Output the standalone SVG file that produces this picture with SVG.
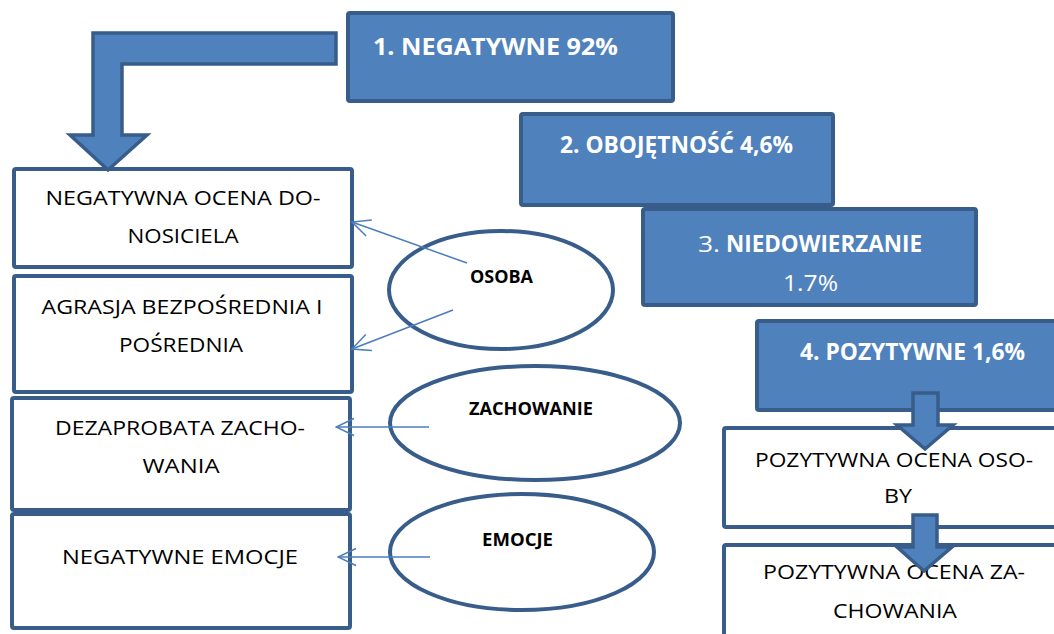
<svg xmlns="http://www.w3.org/2000/svg" width="1054" height="634" viewBox="0 0 1054 634">
  <defs>
    <style>
      .head { fill: #4f81bd; stroke: #385d8a; stroke-width: 4; }
      .box { fill: #ffffff; stroke: #385d8a; stroke-width: 4; }
      .oval { fill: #ffffff; stroke: #385d8a; stroke-width: 4; }
      .blk { fill: #4f81bd; stroke: #385d8a; stroke-width: 3.5; stroke-linejoin: miter; }
      .ht { font-family: "Open Sans", "Liberation Sans", sans-serif; font-weight: bold; font-size: 23px; fill: #ffffff; }
      .hn { font-family: "Open Sans", "Liberation Sans", sans-serif; font-size: 21px; fill: #ffffff; }
      .bt { font-family: "Open Sans", "Liberation Sans", sans-serif; font-size: 20.5px; fill: #000000; text-anchor: middle; }
      .ot { font-family: "Open Sans", "Liberation Sans", sans-serif; font-weight: bold; font-size: 17px; fill: #000000; }
      .link { stroke: #4a7ebb; stroke-width: 1.5; fill: none; marker-end: url(#open); }
    </style>
    <marker id="open" viewBox="0 0 20 20" refX="19" refY="10" markerWidth="20" markerHeight="20" markerUnits="userSpaceOnUse" orient="auto">
      <path d="M1,1.5 L19,10 L1,18.5" fill="none" stroke="#4a7ebb" stroke-width="1.5"/>
    </marker>
  </defs>

  <!-- category headers -->
  <g id="neg">
    <rect class="head" x="348" y="13" width="325" height="88" rx="2"/>
    <text class="ht" x="373" y="55" textLength="245" lengthAdjust="spacingAndGlyphs">1. NEGATYWNE 92%</text>
  </g>
  <g id="obo">
    <rect class="head" x="521" y="114" width="312" height="91" rx="2"/>
    <text class="ht" x="560" y="153" textLength="233" lengthAdjust="spacingAndGlyphs">2. OBOJĘTNOŚĆ 4,6%</text>
  </g>
  <g id="nie">
    <rect class="head" x="643" y="209" width="333" height="96" rx="2"/>
    <text class="hn" x="698" y="252" textLength="22" lengthAdjust="spacingAndGlyphs">3.</text>
    <text class="ht" x="726" y="252" textLength="196" lengthAdjust="spacingAndGlyphs">NIEDOWIERZANIE</text>
    <text class="hn" x="783" y="291" textLength="55" lengthAdjust="spacingAndGlyphs">1.7%</text>
  </g>
  <g id="poz">
    <rect class="head" x="757" y="321" width="304" height="89" rx="2"/>
    <text class="ht" x="800" y="360" textLength="225" lengthAdjust="spacingAndGlyphs">4. POZYTYWNE 1,6%</text>
  </g>

  <!-- negative outcomes -->
  <g id="ocena-don">
    <rect class="box" x="14" y="169" width="338" height="98" rx="2"/>
    <text class="bt" x="183" y="205" textLength="275" lengthAdjust="spacingAndGlyphs">NEGATYWNA OCENA DO-</text>
    <text class="bt" x="183" y="243" textLength="111" lengthAdjust="spacingAndGlyphs">NOSICIELA</text>
  </g>
  <g id="agresja">
    <rect class="box" x="14" y="276" width="338" height="116" rx="2"/>
    <text class="bt" x="182" y="314" textLength="281" lengthAdjust="spacingAndGlyphs">AGRASJA BEZPOŚREDNIA I</text>
    <text class="bt" x="181" y="352" textLength="124" lengthAdjust="spacingAndGlyphs">POŚREDNIA</text>
  </g>
  <g id="dezaprobata">
    <rect class="box" x="12" y="398" width="338" height="112" rx="2"/>
    <text class="bt" x="180" y="435" textLength="250" lengthAdjust="spacingAndGlyphs">DEZAPROBATA ZACHO-</text>
    <text class="bt" x="181" y="473" textLength="77" lengthAdjust="spacingAndGlyphs">WANIA</text>
  </g>
  <g id="emocje-neg">
    <rect class="box" x="12" y="514" width="338" height="114" rx="2"/>
    <text class="bt" x="180" y="564" textLength="236" lengthAdjust="spacingAndGlyphs">NEGATYWNE EMOCJE</text>
  </g>

  <!-- positive outcomes -->
  <g id="ocena-os">
    <rect class="box" x="724" y="428" width="340" height="99" rx="2"/>
    <text class="bt" x="894" y="467" textLength="278" lengthAdjust="spacingAndGlyphs">POZYTYWNA OCENA OSO-</text>
    <text class="bt" x="898" y="503" textLength="28" lengthAdjust="spacingAndGlyphs">BY</text>
  </g>
  <g id="ocena-zach">
    <rect class="box" x="724" y="545" width="340" height="100" rx="2"/>
    <text class="bt" x="894" y="579" textLength="262" lengthAdjust="spacingAndGlyphs">POZYTYWNA OCENA ZA-</text>
    <text class="bt" x="895" y="618" textLength="124" lengthAdjust="spacingAndGlyphs">CHOWANIA</text>
  </g>

  <!-- aspects -->
  <g id="osoba">
    <ellipse class="oval" cx="501" cy="290" rx="112" ry="59"/>
    <text class="ot" x="470" y="283" textLength="63" lengthAdjust="spacingAndGlyphs">OSOBA</text>
  </g>
  <g id="zachowanie">
    <ellipse class="oval" cx="535" cy="423" rx="145" ry="57"/>
    <text class="ot" x="469" y="415" textLength="124" lengthAdjust="spacingAndGlyphs">ZACHOWANIE</text>
  </g>
  <g id="emocje">
    <ellipse class="oval" cx="522" cy="552" rx="132" ry="58"/>
    <text class="ot" x="482" y="546" textLength="71" lengthAdjust="spacingAndGlyphs">EMOCJE</text>
  </g>

  <!-- connectors -->
  <g id="connectors">
    <path class="blk" d="M336,33 L93,33 L93,135 L70,135 L108,170 L147,135 L122,135 L122,64 L336,64 Z"/>
    <path class="blk" d="M913,393 L938,393 L938,425 L953,425 L925,449 L897,425 L913,425 Z"/>
    <path class="blk" d="M913,515 L937,515 L937,547 L952,547 L924,571 L897,547 L913,547 Z"/>
    <line class="link" x1="467" y1="263" x2="352" y2="222"/>
    <line class="link" x1="453" y1="310" x2="352" y2="349"/>
    <line class="link" x1="429" y1="427" x2="336" y2="427"/>
    <line class="link" x1="430" y1="557" x2="338" y2="557"/>
  </g>
</svg>
